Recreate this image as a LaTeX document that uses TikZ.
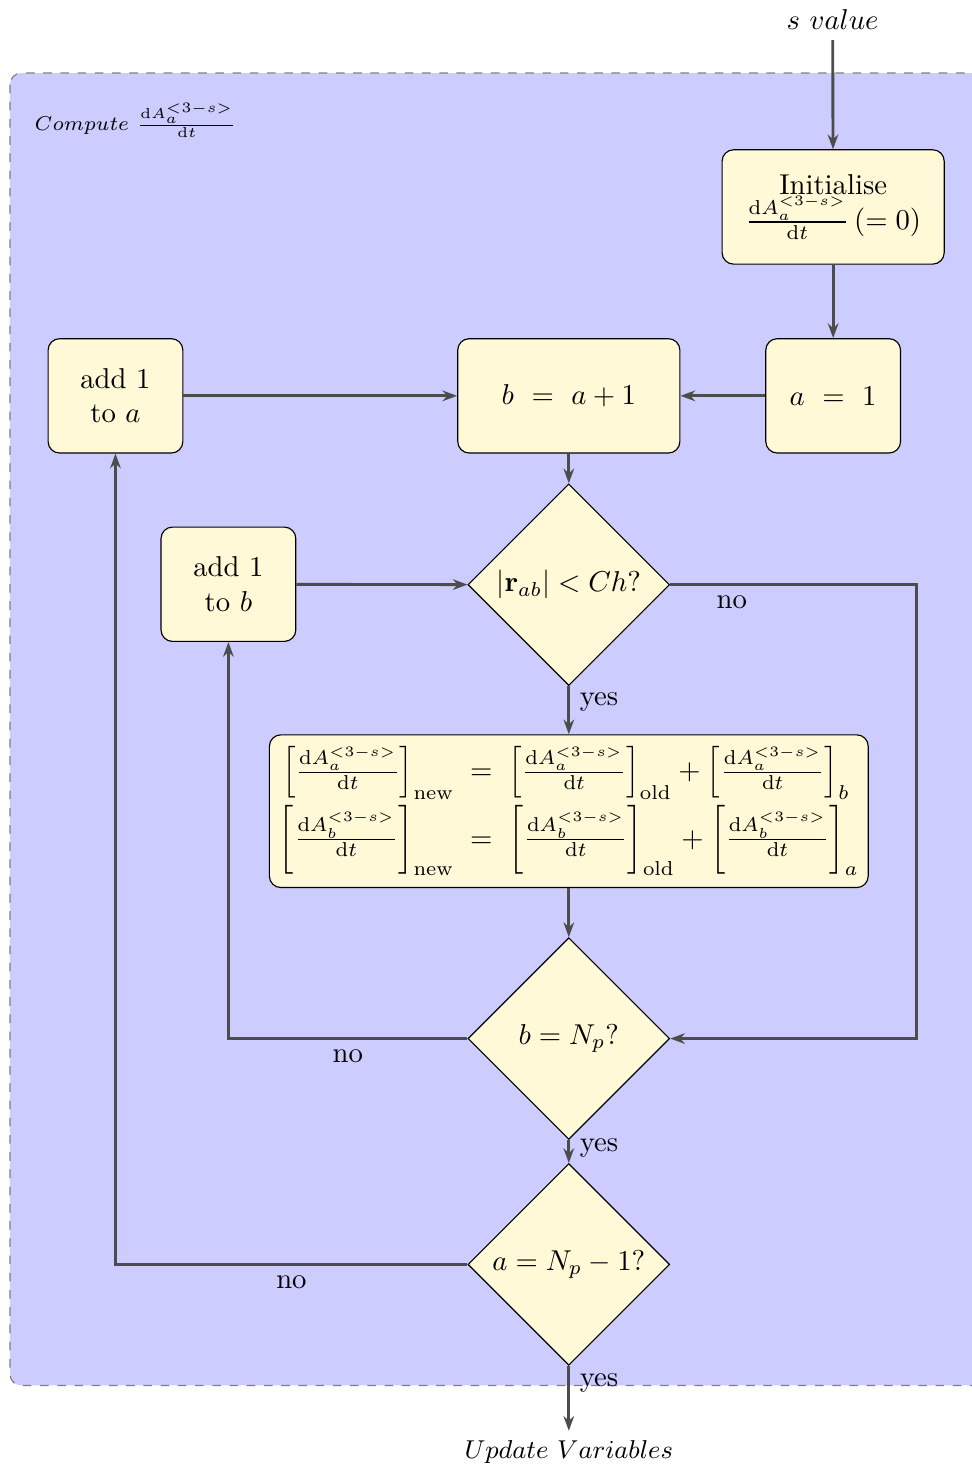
\documentclass[tikz,border=0pt]{standalone}
\usepackage{amsmath}
\usepackage{amssymb}
\usepackage{xcolor}
\usepackage{tikz}
\usetikzlibrary{positioning,arrows.meta,calc,shapes.geometric}
\definecolor{boxfill}{RGB}{255,249,215}
\newcommand{\dAdt}[1]{\frac{\mathrm{d}A_{#1}^{<3-s>}}{\mathrm{d}t}}
\newcommand{\bracketed}[4]{#3[\tfrac{\mathrm{d}A_{#1}^{<3-s>}}{\mathrm{d}t}#4]_{#2}}

\begin{document}
\begin{tikzpicture}[
    stepbox/.style={rectangle,draw,rounded corners=4pt,fill=boxfill,minimum width=1.65cm,
                    minimum height=1.4cm,align=center},
    widebox/.style={stepbox,minimum width=2.72cm},
    decision/.style={diamond,draw,fill=boxfill,aspect=1,minimum width=2.47cm,
                     minimum height=2.47cm,inner sep=0pt},
    arrow/.style={-{Stealth[length=1.8mm,width=1.3mm]},line width=1pt,draw=black!70}
]
\useasboundingbox (0,0) rectangle (11.9,-18.0);
\draw[gray,dashed,fill=blue!20,rounded corners=4pt] (0.122,-0.894) rectangle (12.2,-16.965);
\node[anchor=west] (title) at (0.3,-1.469) {\scriptsize $Compute~\dAdt{a}$};

\node (svalue) at (10.196,-0.245) {$s~value$};
\node[widebox] (init)  at (10.202,-2.534) {Initialise\\ $\dAdt{a}\,(=0)$};
\node[stepbox] (aone)  at (10.202,-4.847) {$a~=~1$};
\node[widebox] (bnext) at (6.965,-4.847)  {$b~=~a+1$};
\node[stepbox] (adda)  at (1.414,-4.847)  {add 1\\ to $a$};
\node[decision] (near) at (6.965,-7.160)  {$|\mathbf{r}_{ab}|<Ch?$};
\node[stepbox] (addb)  at (2.797,-7.154)  {add 1\\ to $b$};
\node[stepbox,minimum width=7.32cm,minimum height=1.87cm] (upd) at (6.965,-9.933)
  {$\begin{aligned}
    \bracketed{a}{\text{new}}{\Bigl}{\Bigr} &\;=\; \bracketed{a}{\text{old}}{\Bigl}{\Bigr} + \bracketed{a}{b}{\Bigl}{\Bigr}\\[-2pt]
    \bracketed{b}{\text{new}}{\biggl}{\biggr} &\;=\; \bracketed{b}{\text{old}}{\biggl}{\biggr} + \bracketed{b}{a}{\biggl}{\biggr}
  \end{aligned}$};
\node[decision] (lastb) at (6.965,-12.717) {$b=N_p?$};
\node[decision] (lasta) at (6.965,-15.483) {$a=N_p-1?$};
\node (out) at (6.965,-17.784) {\small $Update~Variables$};
\coordinate (rx) at (11.224,0);

\draw[arrow] (svalue) -- (init);
\draw[arrow] (init) -- (aone);
\draw[arrow] (aone) -- (bnext);
\draw[arrow] (adda) -- (bnext);
\draw[arrow] (bnext) -- (near);
\draw[arrow] (addb) -- (near);
\draw[arrow] (near.south) -- node[right,pos=0.32]{yes} (upd);
\draw[arrow] (near.east) -- node[below,pos=0.25]{no} (near.east -| rx) |- (lastb.east);
\draw[arrow] (upd) -- (lastb);
\draw[arrow] (lastb.west) -| node[below,pos=0.25]{no} (addb.south);
\draw[arrow] (lastb.south) -- node[right,pos=0.35]{yes} (lasta.north);
\draw[arrow] (lasta.west) -| node[below,pos=0.25]{no} (adda.south);
\draw[arrow] (lasta.south) -- node[right,pos=0.27]{yes} (out);
\end{tikzpicture}
\end{document}
